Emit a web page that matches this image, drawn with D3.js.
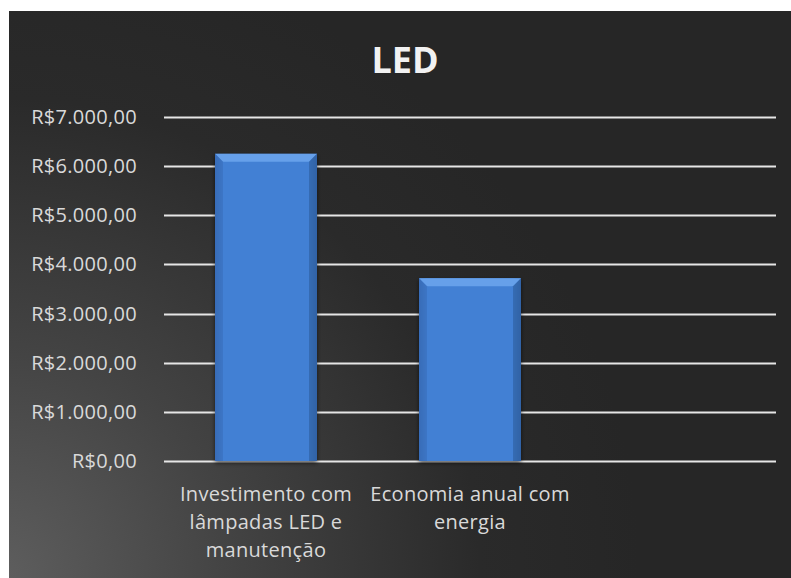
<!DOCTYPE html>
<html>
<head>
<meta charset="utf-8">
<script src="https://cdn.jsdelivr.net/npm/d3@7"></script>
<style>
  body { margin: 0; background: #fff; }
  svg text { font-family: "Open Sans", "Noto Sans", sans-serif; }
</style>
</head>
<body>
<script>
const categories = [
  ["Investimento com", "lâmpadas LED e", "manutenção"],
  ["Economia anual com", "energia"],
  [""]
];
const values = [6250, 3720, null];
const yTicks = [0, 1000, 2000, 3000, 4000, 5000, 6000, 7000];
const title = "LED";

const width = 791, height = 578;
const margin = {top: 117, right: 15, bottom: 117, left: 164};

const svg = d3.select("body").append("svg").attr("width", width).attr("height", height);
const defs = svg.append("defs");

// background gradient: lighter at bottom-left
const bg = defs.append("radialGradient").attr("id", "bg")
  .attr("gradientUnits", "userSpaceOnUse")
  .attr("cx", 0).attr("cy", 578).attr("r", 640);
bg.append("stop").attr("offset", "0%").attr("stop-color", "#5e5e5e");
bg.append("stop").attr("offset", "35%").attr("stop-color", "#444");
bg.append("stop").attr("offset", "75%").attr("stop-color", "#2a2a2a");
bg.append("stop").attr("offset", "100%").attr("stop-color", "#262626");

const barGrad = defs.append("linearGradient").attr("id", "barGrad").attr("x1", 0).attr("x2", 1);
barGrad.append("stop").attr("offset", "0%").attr("stop-color", "#3567b0");
barGrad.append("stop").attr("offset", "8%").attr("stop-color", "#4280d4");
barGrad.append("stop").attr("offset", "92%").attr("stop-color", "#4280d4");
barGrad.append("stop").attr("offset", "100%").attr("stop-color", "#3567b0");

const shadow = defs.append("filter").attr("id", "shadow").attr("x", "-20%").attr("y", "-10%")
  .attr("width", "140%").attr("height", "130%");
shadow.append("feDropShadow").attr("dx", 0).attr("dy", 2).attr("stdDeviation", 2)
  .attr("flood-color", "#000").attr("flood-opacity", 0.6);

svg.append("rect").attr("x", 9).attr("y", 11).attr("width", width - 9).attr("height", height - 11)
  .attr("fill", "url(#bg)");

const x = d3.scaleBand().domain(d3.range(categories.length))
  .range([margin.left, width - margin.right]).paddingInner(0.5).paddingOuter(0.25);
const y = d3.scaleLinear().domain([0, 7000]).range([height - margin.bottom, margin.top]);

// gridlines
svg.append("g").selectAll("line").data(yTicks).join("line")
  .attr("x1", margin.left).attr("x2", width - margin.right)
  .attr("y1", d => Math.round(y(d)) + 0.5).attr("y2", d => Math.round(y(d)) + 0.5)
  .attr("stroke", "#e6e6e6").attr("stroke-width", 2);

// y labels
const fmt = d => "R$" + d3.format(",.2f")(d).replace(/,/g, "#").replace(".", ",").replace(/#/g, ".");
svg.append("g").selectAll("text").data(yTicks).join("text")
  .attr("x", 137).attr("y", d => y(d)).attr("dy", "0.35em")
  .attr("text-anchor", "end").attr("fill", "#d9d9d9").attr("font-size", 20)
  .attr("letter-spacing", 0.3)
  .text(fmt);

// bars
const bars = svg.append("g").selectAll("g").data(values.map((v, i) => ({v, i})).filter(d => d.v != null))
  .join("g");
bars.append("rect")
  .attr("x", d => x(d.i)).attr("y", d => y(d.v))
  .attr("width", x.bandwidth()).attr("height", d => y(0) - y(d.v))
  .attr("fill", "url(#barGrad)").attr("filter", "url(#shadow)");
// top bevel
const bev = 8;
bars.append("path")
  .attr("d", d => {
    const x0 = x(d.i), x1 = x0 + x.bandwidth(), t = y(d.v);
    return `M${x0},${t}L${x1},${t}L${x1 - bev},${t + bev}L${x0 + bev},${t + bev}Z`;
  })
  .attr("fill", "#66a0ea");
bars.append("path")
  .attr("d", d => {
    const x0 = x(d.i), t = y(d.v), b = y(0);
    return `M${x0},${t}L${x0 + bev},${t + bev}L${x0 + bev},${b}L${x0},${b}Z`;
  })
  .attr("fill", "#3a70bd").attr("opacity", 0.6);
bars.append("path")
  .attr("d", d => {
    const x1 = x(d.i) + x.bandwidth(), t = y(d.v), b = y(0);
    return `M${x1},${t}L${x1 - bev},${t + bev}L${x1 - bev},${b}L${x1},${b}Z`;
  })
  .attr("fill", "#2f5f9f").attr("opacity", 0.6);

// category labels
const cat = svg.append("g").selectAll("text").data(categories).join("text")
  .attr("x", (d, i) => x(i) + x.bandwidth() / 2)
  .attr("y", 501)
  .attr("text-anchor", "middle").attr("fill", "#d9d9d9").attr("font-size", 20)
  .attr("letter-spacing", 0.3);
cat.selectAll("tspan").data(d => d).join("tspan")
  .attr("x", function() { return this.parentNode.getAttribute("x"); })
  .attr("dy", (d, i) => i === 0 ? 0 : 28)
  .text(d => d);

// title
svg.append("text").attr("x", 405).attr("y", 73).attr("text-anchor", "middle")
  .attr("fill", "#f2f2f2").attr("font-size", 36).attr("font-weight", "bold")
  .text(title);
</script>
</body>
</html>
